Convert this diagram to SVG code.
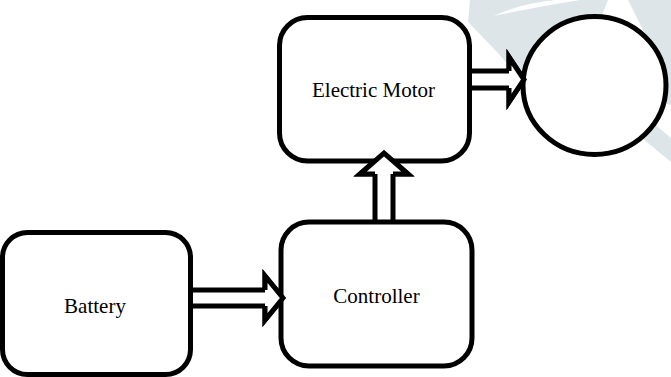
<svg xmlns="http://www.w3.org/2000/svg" width="671" height="377" viewBox="0 0 671 377">
  <defs>
    <style>
      .box { fill: #ffffff; stroke: #000000; stroke-width: 5; }
      .arrow { fill: #ffffff; stroke: #000000; stroke-width: 5; stroke-linejoin: miter; }
      .label { font-family: "Liberation Serif", "Times New Roman", serif; font-size: 21px; fill: #000000; text-anchor: middle; }
      .wm { fill: #dde5e9; stroke: none; }
    </style>
  </defs>
  <rect x="0" y="0" width="671" height="377" fill="#ffffff"/>
  <g id="watermark">
    <path class="wm" d="M470,0 L608,0 L600,20 L565,40 L540,78 L518,76 L497,52 L468,22 Z"/>
    <path fill="#ffffff" d="M494,16 Q522,3 556,0 L580,0 Q535,7 494,16 Z"/>
    <path class="wm" d="M628,0 L671,0 L671,105 L655,100 L648,40 Z"/>
    <path class="wm" d="M630,128 L652,122 L671,138 L671,162 Z"/>
  </g>
  <g id="connectors">
    <path class="arrow" d="M191,290 H265 V276 L283,298 L265,320 V306 H191"/>
    <path class="arrow" d="M375,227 V174 H360 L384,153 L408,174 H393 V227"/>
    <path class="arrow" d="M469,71 H509 V57 L524,79.5 L509,102 V88 H469"/>
  </g>
  <g id="battery">
    <rect class="box" x="2.5" y="232.5" width="188" height="142" rx="25" ry="25"/>
    <text class="label" x="95" y="313">Battery</text>
  </g>
  <g id="controller">
    <rect class="box" x="281" y="222" width="191" height="144" rx="28" ry="28"/>
    <text class="label" x="376.5" y="303">Controller</text>
  </g>
  <g id="motor">
    <rect class="box" x="279.5" y="17.5" width="190" height="143.5" rx="28" ry="28"/>
    <text class="label" x="373.5" y="97">Electric Motor</text>
  </g>
  <g id="wheel">
    <ellipse class="box" cx="594.5" cy="85.5" rx="71.5" ry="69"/>
  </g>
  <g id="connector-heads">
    <path class="arrow" d="M265,290 V276 L283,298 L265,320 V306"/>
    <path class="arrow" d="M375,174 H360 L384,153 L408,174 H393"/>
    <path class="arrow" d="M509,71 V57 L524,79.5 L509,102 V88"/>
  </g>
</svg>
